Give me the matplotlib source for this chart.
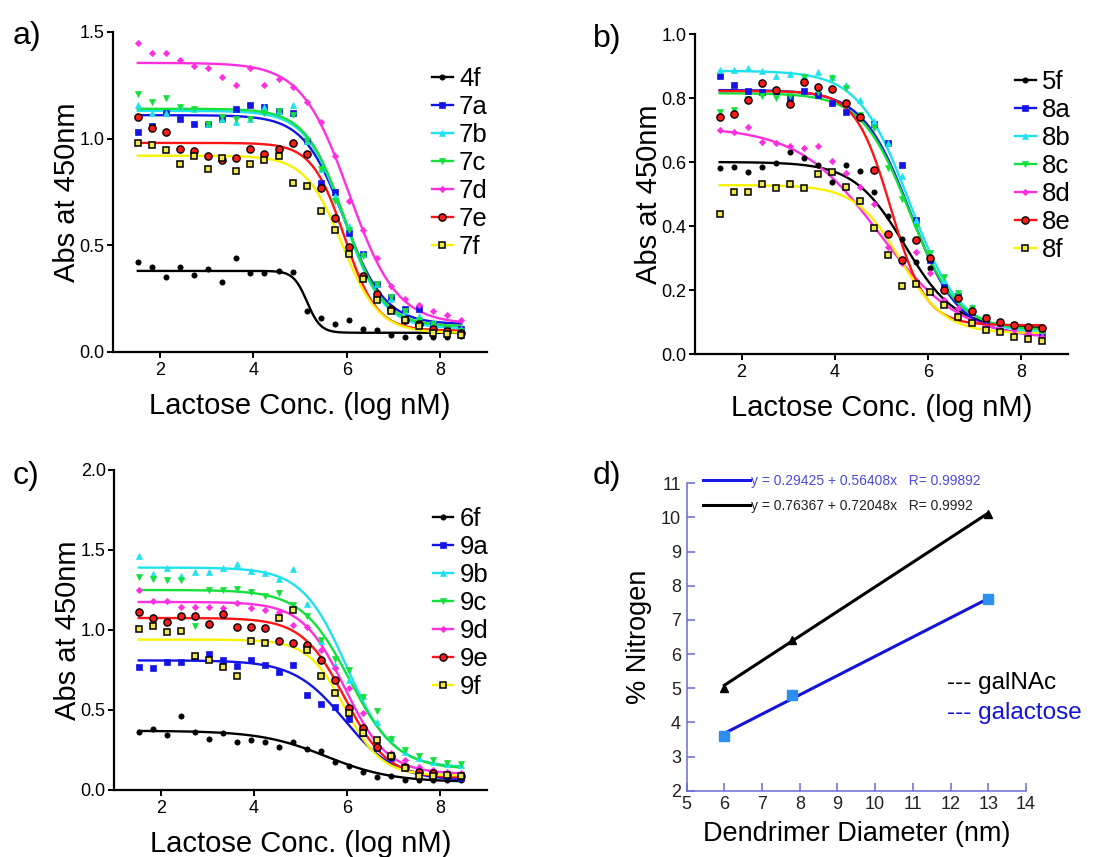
import numpy as np
import matplotlib
matplotlib.use('Agg')
import matplotlib.pyplot as plt
from matplotlib.ticker import FormatStrFormatter
from matplotlib.lines import Line2D

plt.rcParams['font.family'] = ['Liberation Sans', 'DejaVu Sans']

##### data #####
# lactose dilution series (log nM), same for panels a-c
log_conc = [1.53, 1.83, 2.13, 2.43, 2.73, 3.03, 3.34, 3.64, 3.94, 4.24, 4.54, 4.84,
            5.14, 5.44, 5.74, 6.04, 6.34, 6.65, 6.95, 7.25, 7.55, 7.85, 8.15, 8.45]

# panel a
a_labels = ['4f', '7a', '7b', '7c', '7d', '7e', '7f']
a_4f = [0.42, 0.40, 0.35, 0.40, 0.36, 0.39, 0.33, 0.44, 0.37, 0.37, 0.38, 0.375,
        0.19, 0.16, 0.13, 0.15, 0.11, 0.105, 0.08, 0.07, 0.07, 0.07, 0.07, 0.075]
a_7a = [1.03, 1.06, 1.12, 1.09, 1.07, 1.07, 1.09, 1.14, 1.16, 1.15, 1.13, 1.12,
        0.99, 0.79, 0.75, 0.56, 0.46, 0.32, 0.26, 0.20, 0.20, 0.13, 0.11, 0.11]
a_7b = [1.16, 1.12, 1.12, 1.15, 1.14, 1.07, 1.09, 1.08, 1.09, 1.15, 1.13, 1.16,
        0.99, 0.86, 0.73, 0.59, 0.46, 0.32, 0.25, 0.19, 0.17, 0.14, 0.11, 0.11]
a_7c = [1.21, 1.17, 1.19, 1.15, 1.14, 1.07, 1.10, 1.09, 1.09, 1.12, 1.13, 1.11,
        0.99, 0.86, 0.71, 0.57, 0.45, 0.32, 0.26, 0.19, 0.15, 0.13, 0.11, 0.10]
a_7d = [1.45, 1.40, 1.40, 1.37, 1.34, 1.33, 1.29, 1.25, 1.33, 1.25, 1.28, 1.24,
        1.17, 1.08, 0.92, 0.71, 0.57, 0.44, 0.31, 0.25, 0.22, 0.19, 0.175, 0.15]
a_7e = [1.10, 1.05, 1.03, 0.95, 0.94, 0.92, 0.90, 0.91, 0.95, 0.93, 0.95, 0.98,
        0.93, 0.77, 0.63, 0.49, 0.355, 0.27, 0.20, 0.15, 0.13, 0.11, 0.10, 0.09]
a_7f = [0.98, 0.97, 0.945, 0.88, 0.92, 0.86, 0.91, 0.85, 0.88, 0.90, 0.92, 0.79,
        0.78, 0.66, 0.57, 0.46, 0.34, 0.245, 0.19, 0.15, 0.12, 0.09, 0.085, 0.08]
# fitted sigmoid parameters (top, bottom, logEC50, hill)
a_fits = [(0.38, 0.09, 5.15, 3.0), (1.11, 0.13, 5.95, 1.0), (1.13, 0.11, 5.95, 1.05),
          (1.14, 0.12, 5.95, 1.05), (1.355, 0.13, 6.05, 0.85), (0.98, 0.10, 5.95, 1.25),
          (0.92, 0.09, 5.9, 1.1)]

# panel b
b_labels = ['5f', '8a', '8b', '8c', '8d', '8e', '8f']
b_5f = [0.58, 0.585, 0.57, 0.586, 0.596, 0.63, 0.612, 0.591, 0.539, 0.591, 0.572, 0.505,
        0.43, 0.36, 0.289, 0.268, 0.20, 0.176, 0.138, 0.112, 0.096, 0.086, 0.08, 0.08]
b_8a = [0.868, 0.84, 0.823, 0.82, 0.823, 0.80, 0.823, 0.81, 0.784, 0.757, 0.742, 0.72,
        0.659, 0.591, 0.42, 0.294, 0.21, 0.18, 0.132, 0.106, 0.096, 0.09, 0.08, 0.065]
b_8b = [0.888, 0.888, 0.894, 0.886, 0.87, 0.876, 0.868, 0.88, 0.866, 0.84, 0.795, 0.727,
        0.659, 0.555, 0.419, 0.304, 0.231, 0.19, 0.148, 0.117, 0.101, 0.09, 0.086, 0.075]
b_8c = [0.755, 0.763, 0.797, 0.805, 0.80, 0.805, 0.865, 0.82, 0.862, 0.83, 0.748, 0.706,
        0.58, 0.484, 0.398, 0.315, 0.242, 0.19, 0.143, 0.117, 0.101, 0.09, 0.08, 0.065]
b_8d = [0.70, 0.695, 0.711, 0.664, 0.659, 0.649, 0.643, 0.649, 0.602, 0.565, 0.523, 0.47,
        0.336, 0.284, 0.32, 0.252, 0.169, 0.143, 0.127, 0.106, 0.09, 0.075, 0.065, 0.054]
b_8e = [0.74, 0.75, 0.795, 0.847, 0.826, 0.782, 0.849, 0.834, 0.828, 0.786, 0.742, 0.574,
        0.374, 0.294, 0.357, 0.301, 0.20, 0.174, 0.136, 0.112, 0.101, 0.09, 0.083, 0.08]
b_8f = [0.438, 0.506, 0.505, 0.532, 0.52, 0.531, 0.518, 0.562, 0.57, 0.523, 0.477, 0.395,
        0.308, 0.213, 0.218, 0.195, 0.153, 0.117, 0.096, 0.075, 0.068, 0.052, 0.046, 0.042]
b_fits = [(0.60, 0.08, 5.5, 0.8), (0.825, 0.06, 5.62, 0.85), (0.885, 0.065, 5.6, 0.8),
          (0.815, 0.075, 5.6, 0.85), (0.71, 0.045, 4.95, 0.5), (0.822, 0.09, 5.2, 1.15),
          (0.528, 0.065, 5.4, 0.9)]

# panel c
c_labels = ['6f', '9a', '9b', '9c', '9d', '9e', '9f']
c_6f = [0.365, 0.38, 0.345, 0.46, 0.36, 0.32, 0.355, 0.30, 0.31, 0.30, 0.27, 0.30,
        0.255, 0.245, 0.175, 0.15, 0.11, 0.08, 0.085, 0.065, 0.06, 0.06, 0.06, 0.065]
c_9a = [0.77, 0.76, 0.80, 0.80, 0.83, 0.85, 0.81, 0.775, 0.81, 0.78, 0.74, 0.78,
        0.595, 0.54, 0.52, 0.445, 0.355, 0.26, 0.20, 0.145, 0.115, 0.095, 0.085, 0.075]
c_9b = [1.46, 1.35, 1.385, 1.335, 1.36, 1.36, 1.385, 1.41, 1.37, 1.355, 1.32, 1.38,
        1.165, 0.93, 0.78, 0.69, 0.585, 0.425, 0.325, 0.24, 0.20, 0.175, 0.165, 0.155]
c_9c = [1.33, 1.32, 1.31, 1.31, 1.025, 1.25, 1.25, 1.255, 1.235, 1.21, 1.23, 1.155,
        1.09, 0.94, 0.82, 0.75, 0.58, 0.495, 0.32, 0.25, 0.21, 0.19, 0.17, 0.16]
c_9d = [1.25, 1.18, 1.18, 1.145, 1.145, 1.145, 1.135, 1.17, 1.135, 1.125, 1.115, 1.03,
        1.02, 0.875, 0.76, 0.635, 0.48, 0.31, 0.23, 0.19, 0.145, 0.125, 0.115, 0.105]
c_9e = [1.11, 1.075, 1.05, 1.09, 1.09, 1.04, 1.10, 1.02, 1.02, 1.01, 0.93, 0.92,
        0.905, 0.81, 0.69, 0.51, 0.385, 0.27, 0.21, 0.145, 0.115, 0.105, 0.095, 0.085]
c_9f = [1.005, 1.025, 0.99, 0.995, 0.84, 0.81, 0.77, 0.715, 0.93, 0.92, 1.075, 1.125,
        0.875, 0.71, 0.605, 0.48, 0.355, 0.31, 0.21, 0.135, 0.09, 0.085, 0.095, 0.09]
c_fits = [(0.37, 0.05, 5.55, 0.62), (0.81, 0.06, 5.95, 0.8), (1.39, 0.14, 6.0, 0.9),
          (1.25, 0.13, 6.05, 0.85), (1.175, 0.10, 5.95, 0.95), (1.075, 0.075, 5.95, 0.95),
          (0.94, 0.09, 5.95, 1.1)]

# panel d
diam = [6, 7.8, 13]
n_galnac = [5.0, 6.4, 10.1]
n_galactose = [3.6, 4.8, 7.6]
fit_galactose = (0.29425, 0.56408)
fit_galnac = (0.76367, 0.72048)

##### styles #####
styles = [
    dict(c='black', marker='o', ms=3.8, mfc='black', mec='black', mew=0.5),
    dict(c='#1414e6', marker='s', ms=3.8, mfc='#1414e6', mec='#1414e6', mew=0.5),
    dict(c='#1ee3ee', marker='^', ms=4.6, mfc='#1ee3ee', mec='#1ee3ee', mew=0.5),
    dict(c='#14e03c', marker='v', ms=4.6, mfc='#14e03c', mec='#14e03c', mew=0.5),
    dict(c='#ff2ee0', marker='D', ms=3.2, mfc='#ff2ee0', mec='#ff2ee0', mew=0.5),
    dict(c='#ff1414', marker='o', ms=5.2, mfc='#ff1a1a', mec='black', mew=1.0),
    dict(c='#f7f200', marker='s', ms=5.0, mfc='#f2e84a', mec='black', mew=1.1),
]


def draw_panel(ax, labels, series, fits, ymax, ystep, leg_xy):
    xs = np.linspace(log_conc[0], log_conc[-1], 300)
    handles = []
    for lab, ys, fit, st in zip(labels, series, fits, styles):
        top, bottom, ec50, hill = fit
        curve = bottom + (top - bottom) / (1 + 10 ** ((xs - ec50) * hill))
        ax.plot(xs, curve, color=st['c'], lw=1.7, zorder=2)
        ax.plot(log_conc, ys, ls='none', marker=st['marker'], ms=st['ms'],
                mfc=st['mfc'], mec=st['mec'], mew=st['mew'], zorder=3, clip_on=False)
        handles.append(Line2D([], [], color=st['c'], lw=1.7, marker=st['marker'],
                              ms=st['ms'], mfc=st['mfc'], mec=st['mec'], mew=st['mew']))
    ax.set_xlim(1, 9)
    ax.set_ylim(0, ymax)
    ax.set_xticks([2, 4, 6, 8])
    ax.set_yticks(np.arange(0, ymax + 0.001, ystep))
    ax.yaxis.set_major_formatter(FormatStrFormatter('%.1f'))
    for s in ['top', 'right']:
        ax.spines[s].set_visible(False)
    for s in ['left', 'bottom']:
        ax.spines[s].set_linewidth(1.6)
    ax.tick_params(direction='out', length=4.5, width=1.4, labelsize=13)
    ax.tick_params(axis='y', pad=1.5)
    ax.tick_params(axis='x', pad=3)
    ax.set_xlabel('Lactose Conc. (log nM)', fontsize=21)
    ax.set_ylabel('Abs at 450nm', fontsize=21)
    ax.xaxis.set_label_coords(0.5, -0.125)
    ax.yaxis.set_label_coords(-0.086, 0.5)
    ax.legend(handles, labels, loc='upper left', bbox_to_anchor=leg_xy, frameon=False,
              fontsize=18.5, handlelength=0.8, handletextpad=0.25, labelspacing=0.155,
              borderpad=0, borderaxespad=0)


fig = plt.figure(figsize=(11.18, 8.57), dpi=100)
ax_a = fig.add_axes([0.1011, 0.5893, 0.3345, 0.3734])
ax_b = fig.add_axes([0.6216, 0.5869, 0.3336, 0.3734])
ax_c = fig.add_axes([0.1020, 0.0782, 0.3336, 0.3734])
ax_d = fig.add_axes([0.6142, 0.0774, 0.3035, 0.3586])

draw_panel(ax_a, a_labels, [a_4f, a_7a, a_7b, a_7c, a_7d, a_7e, a_7f], a_fits,
           1.5, 0.5, (0.853, 0.89))
draw_panel(ax_b, b_labels, [b_5f, b_8a, b_8b, b_8c, b_8d, b_8e, b_8f], b_fits,
           1.0, 0.2, (0.858, 0.8875))
draw_panel(ax_c, c_labels, [c_6f, c_9a, c_9b, c_9c, c_9d, c_9e, c_9f], c_fits,
           2.0, 0.5, (0.855, 0.885))

##### panel d #####
xl = np.array([diam[0], diam[-1]])
ax_d.plot(xl, fit_galnac[0] + fit_galnac[1] * xl, color='black', lw=2.2, zorder=2)
ax_d.plot(xl, fit_galactose[0] + fit_galactose[1] * xl, color='#1414d9', lw=2.2, zorder=2)
ax_d.plot(diam, n_galnac, ls='none', marker='^', ms=6, color='black', zorder=3)
ax_d.plot(diam, n_galactose, ls='none', marker='s', ms=6.5, color='#2b8ff0', zorder=3)
ax_d.set_xlim(5, 14)
ax_d.set_ylim(2, 11)
ax_d.set_xticks(range(5, 15))
ax_d.set_yticks(range(2, 12))
for s in ['top', 'right']:
    ax_d.spines[s].set_visible(False)
for s in ['left', 'bottom']:
    ax_d.spines[s].set_color('#6a6ad8')
    ax_d.spines[s].set_linewidth(1.1)
ax_d.tick_params(direction='in', length=6, width=1.1, color='#6a6ad8',
                 labelcolor='#222222', labelsize=13, pad=4)
ax_d.set_xlabel('Dendrimer Diameter (nm)', fontsize=19.5)
ax_d.set_ylabel('% Nitrogen', fontsize=19.5)
ax_d.xaxis.set_label_coords(0.5, -0.1)
ax_d.yaxis.set_label_coords(-0.102, 0.5)
d_handles = [Line2D([], [], color='#1a1ae6', lw=2.2), Line2D([], [], color='black', lw=2.2)]
d_labels = ['y = 0.29425 + 0.56408x   R= 0.99892', 'y = 0.76367 + 0.72048x   R= 0.9992']
ax_d.legend(d_handles, d_labels, loc='upper left', bbox_to_anchor=(0.048, 1.03),
            frameon=False, fontsize=10, handlelength=3.4, handletextpad=0.05,
            labelspacing=0.75, borderpad=0, borderaxespad=0,
            labelcolor=['#4a4ae0', '#222222'])
ax_d.text(0.767, 0.35, '--- galNAc', transform=ax_d.transAxes, fontsize=17.5,
          color='black', va='center', ha='left')
ax_d.text(0.767, 0.253, '--- galactose', transform=ax_d.transAxes, fontsize=17.5,
          color='#1414d9', va='center', ha='left', clip_on=False)

##### panel letters #####
fig.text(13 / 1118, 1 - 44 / 857, 'a)', fontsize=23, va='baseline', ha='left')
fig.text(593 / 1118, 1 - 47 / 857, 'b)', fontsize=23, va='baseline', ha='left')
fig.text(13 / 1118, 1 - 484 / 857, 'c)', fontsize=23, va='baseline', ha='left')
fig.text(593 / 1118, 1 - 484 / 857, 'd)', fontsize=23, va='baseline', ha='left')

fig.savefig('out.png', dpi=100)
